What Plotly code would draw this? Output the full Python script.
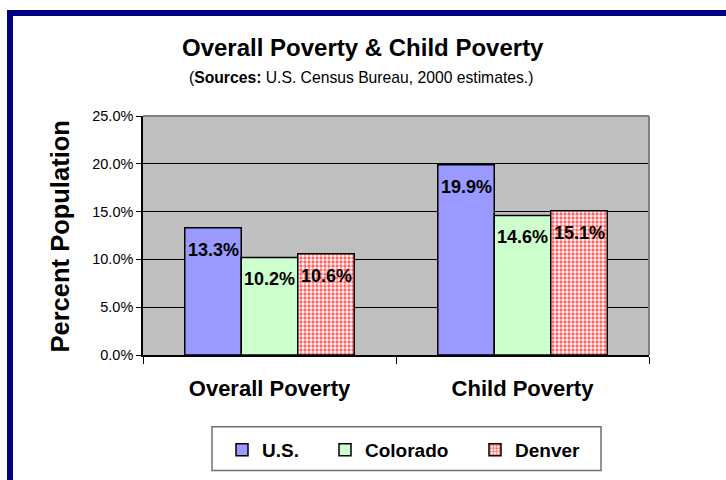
import plotly.graph_objects as go

categories = ["Overall Poverty", "Child Poverty"]
us = [13.3, 19.9]
colorado = [10.2, 14.6]
denver = [10.6, 15.1]
series_names = ["U.S.", "Colorado", "Denver"]
y_ticks = [0, 5, 10, 15, 20, 25]

W, H = 726, 480
L, R, T, B = 143, 77, 116, 124
PW, PH = W - L - R, H - T - B


def px_x(px):
    return (px - L) / PW


def px_y(py):
    return (H - B - py) / PH


FONT = "Liberation Sans, Arial, sans-serif"
BAR_GAP = 0.33

fig = go.Figure()
fig.add_trace(go.Bar(x=categories, y=us, name=series_names[0], legend="legend",
                     marker=dict(color="#9999FF", line=dict(color="black", width=1.5))))
fig.add_trace(go.Bar(x=categories, y=colorado, name=series_names[1], legend="legend2",
                     marker=dict(color="#CCFFCC", line=dict(color="black", width=1.5))))
fig.add_trace(go.Bar(x=categories, y=denver, name=series_names[2], legend="legend3",
                     marker=dict(color="#FF8080", line=dict(color="black", width=1.5),
                                 pattern=dict(shape=".", bgcolor="white", fgcolor="#FF6666",
                                              size=4, solidity=0.55, fillmode="replace"))))

# data labels just under each bar top
bw = (1 - BAR_GAP) / 3
for i, vals in enumerate([us, colorado, denver]):
    for j, v in enumerate(vals):
        fig.add_annotation(x=j + (i - 1) * bw, y=v, xref="x", yref="y",
                           text=f"<b>{v:.1f}%</b>", showarrow=False,
                           yshift=-22, font=dict(size=18, color="black", family=FONT))

fig.add_annotation(x=px_x(363), y=px_y(47), xref="paper", yref="paper",
                   xanchor="center", yanchor="middle",
                   text="<b>Overall Poverty & Child Poverty</b>", showarrow=False,
                   font=dict(size=24, color="black", family=FONT))
fig.add_annotation(x=px_x(361), y=px_y(77), xref="paper", yref="paper",
                   xanchor="center", yanchor="middle",
                   text="(<b>Sources:</b> U.S. Census Bureau, 2000 estimates.)", showarrow=False,
                   font=dict(size=15.7, color="black", family=FONT))
fig.add_annotation(x=px_x(60), y=px_y(237), xref="paper", yref="paper",
                   xanchor="center", yanchor="middle",
                   text="<b>Percent Population</b>", showarrow=False, textangle=-90,
                   font=dict(size=25.5, color="black", family=FONT))

shapes = [
    # outer navy frame
    dict(type="rect", xref="paper", yref="paper",
         x0=px_x(10), x1=px_x(760), y0=px_y(12.5), y1=px_y(530),
         line=dict(color="#000080", width=6), fillcolor="rgba(0,0,0,0)"),
    # plot area border top/right
    dict(type="line", xref="paper", yref="paper", x0=0, x1=1, y0=1, y1=1,
         line=dict(color="#808080", width=2), layer="above"),
    dict(type="line", xref="paper", yref="paper", x0=1, x1=1, y0=0, y1=1,
         line=dict(color="#808080", width=2), layer="above"),
    # legend box
    dict(type="rect", xref="paper", yref="paper",
         x0=px_x(212), x1=px_x(601), y0=px_y(428), y1=px_y(472),
         line=dict(color="#707070", width=1.5), fillcolor="white"),
]


def legend_at(px):
    return dict(orientation="h", x=px_x(px), xanchor="left", y=px_y(450), yanchor="middle",
                bgcolor="rgba(0,0,0,0)", borderwidth=0,
                font=dict(size=19, family=FONT, color="black", weight="bold"),
                itemclick=False, itemdoubleclick=False)


fig.update_layout(
    width=W, height=H,
    margin=dict(l=L, r=R, t=T, b=B),
    paper_bgcolor="white", plot_bgcolor="#C0C0C0",
    font=dict(family=FONT, color="black"),
    barmode="group", bargap=BAR_GAP, bargroupgap=0,
    shapes=shapes,
    showlegend=True,
    legend=legend_at(222),
    legend2=legend_at(325),
    legend3=legend_at(475),
)
fig.update_xaxes(showline=True, linecolor="black", linewidth=1.5,
                 ticks="outside", tickson="boundaries", ticklen=7, tickcolor="black",
                 tickfont=dict(size=22, family=FONT, color="black", weight="bold"),
                 ticklabelstandoff=13, showgrid=False)
fig.update_yaxes(range=[0, 25], tickvals=y_ticks, ticktext=[f"{v:.1f}%" for v in y_ticks],
                 showline=True, linecolor="black", linewidth=1.5,
                 ticks="outside", ticklen=5, tickcolor="black",
                 tickfont=dict(size=14.5, family=FONT, color="black"),
                 showgrid=True, gridcolor="black", gridwidth=1, zeroline=False)

fig.write_html("out.html", config={"displayModeBar": False},
               post_script="document.body.style.margin='0';")
